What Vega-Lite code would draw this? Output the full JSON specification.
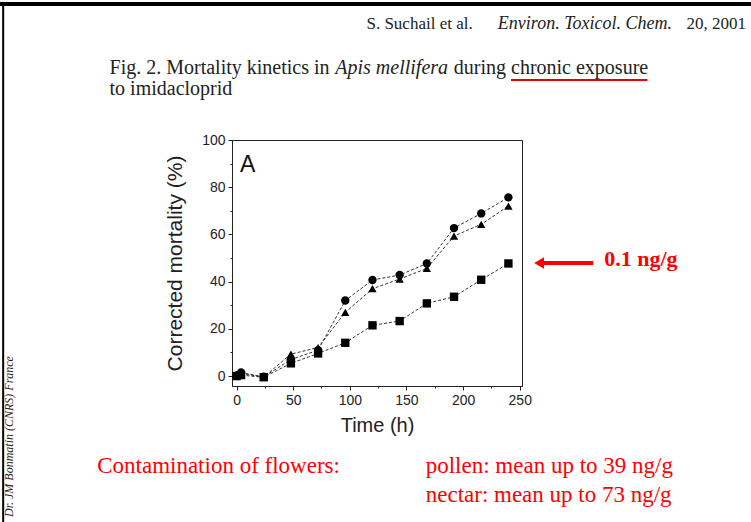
{
  "$schema": "https://vega.github.io/schema/vega-lite/v6.json",
  "width": 290,
  "height": 246,
  "autosize": {"type": "none"},
  "padding": {"left": 232, "top": 140, "right": 229, "bottom": 136},
  "background": "white",
  "config": {
    "view": {"stroke": "#222", "strokeWidth": 1},
    "axis": {
      "labelFont": "Liberation Sans",
      "titleFont": "Liberation Sans",
      "labelColor": "#222",
      "titleColor": "#222",
      "domainColor": "#222",
      "tickColor": "#222",
      "labelFontSize": 14,
      "titleFontWeight": "normal",
      "grid": false
    }
  },
  "datasets": {
    "mortality": [
      {"t": 0, "m": 0.3, "s": "circle"},
      {"t": 4, "m": 1.5, "s": "circle"},
      {"t": 24, "m": -0.3, "s": "circle"},
      {"t": 48, "m": 7, "s": "circle"},
      {"t": 72, "m": 11, "s": "circle"},
      {"t": 96, "m": 32, "s": "circle"},
      {"t": 120, "m": 40.7, "s": "circle"},
      {"t": 144, "m": 42.8, "s": "circle"},
      {"t": 168, "m": 47.7, "s": "circle"},
      {"t": 192, "m": 62.7, "s": "circle"},
      {"t": 216, "m": 68.9, "s": "circle"},
      {"t": 240, "m": 75.7, "s": "circle"},
      {"t": 0, "m": 0.6, "s": "triangle"},
      {"t": 4, "m": 1.0, "s": "triangle"},
      {"t": 24, "m": -0.4, "s": "triangle"},
      {"t": 48, "m": 9.3, "s": "triangle"},
      {"t": 72, "m": 12.1, "s": "triangle"},
      {"t": 96, "m": 27, "s": "triangle"},
      {"t": 120, "m": 37, "s": "triangle"},
      {"t": 144, "m": 41.1, "s": "triangle"},
      {"t": 168, "m": 45.6, "s": "triangle"},
      {"t": 192, "m": 59.3, "s": "triangle"},
      {"t": 216, "m": 64.3, "s": "triangle"},
      {"t": 240, "m": 72, "s": "triangle"},
      {"t": 0, "m": 0, "s": "square"},
      {"t": 4, "m": 0.4, "s": "square"},
      {"t": 24, "m": -0.5, "s": "square"},
      {"t": 48, "m": 5.4, "s": "square"},
      {"t": 72, "m": 9.6, "s": "square"},
      {"t": 96, "m": 14.1, "s": "square"},
      {"t": 120, "m": 21.5, "s": "square"},
      {"t": 144, "m": 23.3, "s": "square"},
      {"t": 168, "m": 30.8, "s": "square"},
      {"t": 192, "m": 33.6, "s": "square"},
      {"t": 216, "m": 40.8, "s": "square"},
      {"t": 240, "m": 47.7, "s": "square"}
    ],
    "one": [{}]
  },
  "data": {"name": "one"},
  "encoding": {
    "x": {
      "type": "quantitative",
      "scale": {"domain": [-4, 252], "nice": false, "zero": false},
      "axis": {
        "title": "Time (h)", "titleFontSize": 20, "titlePadding": 8,
        "values": [0, 25, 50, 75, 100, 125, 150, 175, 200, 225, 250],
        "labelExpr": "datum.value % 50 === 0 ? datum.label : ''",
        "tickSize": {"condition": {"test": "datum.value % 50 !== 0", "value": 2}, "value": 4},
        "labelPadding": 3
      }
    },
    "y": {
      "type": "quantitative",
      "scale": {"domain": [-4.2, 100], "nice": false, "zero": false},
      "axis": {
        "title": "Corrected mortality (%)", "titleFontSize": 21, "titlePadding": 16,
        "values": [0, 10, 20, 30, 40, 50, 60, 70, 80, 90, 100],
        "labelExpr": "datum.value % 20 === 0 ? datum.label : ''",
        "tickSize": {"condition": {"test": "datum.value % 20 !== 0", "value": 2}, "value": 4},
        "labelPadding": 3
      }
    }
  },
  "layer": [
    {
      "data": {"name": "mortality"},
      "mark": {"type": "line", "color": "#333", "strokeWidth": 1, "strokeDash": [3, 2]},
      "encoding": {
        "x": {"field": "t", "type": "quantitative"},
        "y": {"field": "m", "type": "quantitative"},
        "detail": {"field": "s"}
      }
    },
    {
      "data": {"name": "mortality"},
      "mark": {"type": "point", "filled": true, "color": "#000", "opacity": 1, "size": 70},
      "encoding": {
        "x": {"field": "t", "type": "quantitative"},
        "y": {"field": "m", "type": "quantitative"},
        "shape": {
          "field": "s", "type": "nominal",
          "scale": {"domain": ["circle", "triangle", "square"], "range": ["circle", "triangle-up", "square"]},
          "legend": null
        }
      }
    },
    {
      "mark": {"type": "text", "font": "Liberation Sans", "fontSize": 23, "align": "left", "baseline": "alphabetic", "color": "#111"},
      "encoding": {"x": {"datum": 3.1}, "y": {"datum": 86.4}, "text": {"value": "A"}}
    },
    {
      "mark": {"type": "rule", "color": "#000", "strokeWidth": 4},
      "encoding": {"x": {"datum": -209.5}, "x2": {"datum": 455.7}, "y": {"datum": 157.6}}
    },
    {
      "mark": {"type": "rule", "color": "#000", "strokeWidth": 2},
      "encoding": {"x": {"datum": -206.0}, "y": {"datum": 157.6}, "y2": {"datum": -61.8}}
    },
    {
      "mark": {"type": "text", "font": "Liberation Serif", "fontSize": 17, "align": "left", "baseline": "alphabetic", "color": "#222"},
      "encoding": {"x": {"datum": 114.7}, "y": {"datum": 147.0}, "text": {"value": "S. Suchail et al."}}
    },
    {
      "mark": {"type": "text", "font": "Liberation Serif", "fontSize": 18, "fontStyle": "italic", "align": "left", "baseline": "alphabetic", "color": "#222"},
      "encoding": {"x": {"datum": 230.7}, "y": {"datum": 147.0}, "text": {"value": "Environ. Toxicol. Chem."}}
    },
    {
      "mark": {"type": "text", "font": "Liberation Serif", "fontSize": 17, "align": "left", "baseline": "alphabetic", "color": "#222"},
      "encoding": {"x": {"datum": 397.3}, "y": {"datum": 147.0}, "text": {"value": "20, 2001"}}
    },
    {
      "mark": {"type": "text", "font": "Liberation Serif", "fontSize": 20, "align": "left", "baseline": "alphabetic", "color": "#222"},
      "encoding": {"x": {"datum": -112.1}, "y": {"datum": 127.96}, "text": {"value": "Fig. 2. Mortality kinetics in"}}
    },
    {
      "mark": {"type": "text", "font": "Liberation Serif", "fontSize": 20, "fontStyle": "italic", "align": "left", "baseline": "alphabetic", "color": "#222"},
      "encoding": {"x": {"datum": 87.2}, "y": {"datum": 127.96}, "text": {"value": "Apis mellifera"}}
    },
    {
      "mark": {"type": "text", "font": "Liberation Serif", "fontSize": 20, "align": "left", "baseline": "alphabetic", "color": "#222"},
      "encoding": {"x": {"datum": 191.8}, "y": {"datum": 127.96}, "text": {"value": "during chronic exposure"}}
    },
    {
      "mark": {"type": "text", "font": "Liberation Serif", "fontSize": 20, "align": "left", "baseline": "alphabetic", "color": "#222"},
      "encoding": {"x": {"datum": -112.1}, "y": {"datum": 119.06}, "text": {"value": "to imidacloprid"}}
    },
    {
      "mark": {"type": "rule", "color": "#e00000", "strokeWidth": 2},
      "encoding": {"x": {"datum": 242.3}, "x2": {"datum": 362.7}, "y": {"datum": 125.41}}
    },
    {
      "mark": {"type": "rule", "color": "#ff0000", "strokeWidth": 4},
      "encoding": {"x": {"datum": 269.7}, "x2": {"datum": 314.9}, "y": {"datum": 47.9}}
    },
    {
      "mark": {"type": "point", "shape": "triangle-left", "filled": true, "color": "#ff0000", "opacity": 1, "size": 130},
      "encoding": {"x": {"datum": 267.1}, "y": {"datum": 47.9}}
    },
    {
      "mark": {"type": "text", "font": "Liberation Serif", "fontSize": 22, "fontWeight": "bold", "align": "left", "baseline": "alphabetic", "color": "#ff0000"},
      "encoding": {"x": {"datum": 324.6}, "y": {"datum": 46.6}, "text": {"value": "0.1 ng/g"}}
    },
    {
      "mark": {"type": "text", "font": "Liberation Serif", "fontSize": 23, "align": "left", "baseline": "alphabetic", "color": "#ff0000"},
      "encoding": {"x": {"datum": -123.0}, "y": {"datum": -41.05}, "text": {"value": "Contamination of flowers:"}}
    },
    {
      "mark": {"type": "text", "font": "Liberation Serif", "fontSize": 23, "align": "left", "baseline": "alphabetic", "color": "#ff0000"},
      "encoding": {"x": {"datum": 167.0}, "y": {"datum": -41.05}, "text": {"value": "pollen: mean up to 39 ng/g"}}
    },
    {
      "mark": {"type": "text", "font": "Liberation Serif", "fontSize": 23, "align": "left", "baseline": "alphabetic", "color": "#ff0000"},
      "encoding": {"x": {"datum": 167.0}, "y": {"datum": -53.33}, "text": {"value": "nectar: mean up to 73 ng/g"}}
    },
    {
      "mark": {"type": "text", "font": "Liberation Serif", "fontSize": 12, "fontStyle": "italic", "align": "left", "baseline": "alphabetic", "angle": 270, "color": "#222"},
      "encoding": {"x": {"datum": -197.6}, "y": {"datum": -59.7}, "text": {"value": "Dr. JM Bonmatin (CNRS) France"}}
    }
  ]
}
